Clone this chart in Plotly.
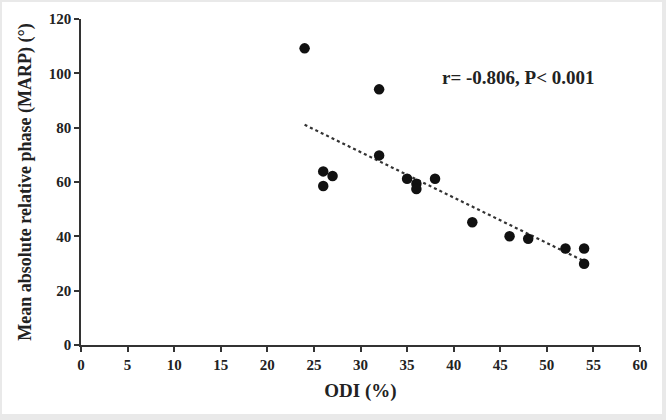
import numpy as np
import plotly.graph_objects as go

odi = [24, 32, 32, 26, 26, 27, 35, 36, 36, 38, 42, 46, 48, 52, 54, 54]
marp = [109.2, 94.1, 69.8, 63.9, 58.5, 62.2, 61.2, 59.4, 57.4, 61.2, 45.2, 40.0, 39.1, 35.5, 35.5, 29.9]
x_ticks = list(range(0, 61, 5))
y_ticks = list(range(0, 121, 20))
annotation_text = "r= -0.806, P< 0.001"

slope, intercept = np.polyfit(odi, marp, 1)
fit_x = [min(odi), max(odi)]
fit_y = [slope * v + intercept for v in fit_x]

font_family = "Liberation Serif"

fig = go.Figure()
fig.add_trace(go.Scatter(
    x=fit_x, y=fit_y, mode="lines",
    line=dict(color="#333333", width=2.2, dash="dot"),
    showlegend=False, hoverinfo="skip",
))
fig.add_trace(go.Scatter(
    x=odi, y=marp, mode="markers",
    marker=dict(color="#111111", size=10.5, line=dict(width=0)),
    showlegend=False,
))

fig.add_annotation(
    x=0.643, y=0.82, xref="paper", yref="paper", xanchor="left", yanchor="middle",
    text=annotation_text, showarrow=False,
    font=dict(family=font_family, size=19, color="#222222", weight="bold"),
)

# light gray frame around the figure
fig.add_shape(type="rect", xref="paper", yref="paper",
              x0=-0.1413, x1=1.0394, y0=-0.2117, y1=1.052,
              fillcolor="white", line=dict(width=0), layer="below")

axis_font = dict(family=font_family, size=15, color="#222222", weight="bold")
fig.update_layout(
    width=666, height=420,
    margin=dict(l=81, r=26, t=19, b=75),
    paper_bgcolor="#e9e9e9",
    plot_bgcolor="white",
    xaxis=dict(
        range=[0, 60], tickvals=x_ticks, ticktext=[str(v) for v in x_ticks],
        showgrid=False, zeroline=False, showline=True, linecolor="#333333", linewidth=1.5,
        ticks="outside", ticklen=5, tickwidth=1.5, tickcolor="#333333",
        tickfont=axis_font, automargin=False,
        title=dict(text="ODI (%)", font=dict(family=font_family, size=19, color="#222222", weight="bold"), standoff=12),
    ),
    yaxis=dict(
        range=[0, 120], tickvals=y_ticks, ticktext=[str(v) for v in y_ticks],
        showgrid=False, zeroline=False, showline=True, linecolor="#333333", linewidth=1.5,
        ticks="outside", ticklen=5, tickwidth=1.5, tickcolor="#333333",
        tickfont=axis_font, automargin=False,
        title=dict(text="Mean absolute relative phase (MARP) (°)", font=dict(family=font_family, size=18, color="#222222", weight="bold"), standoff=12),
    ),
)

fig.write_html("out.html", config={"displayModeBar": False},
               post_script="document.body.style.margin='0';")
